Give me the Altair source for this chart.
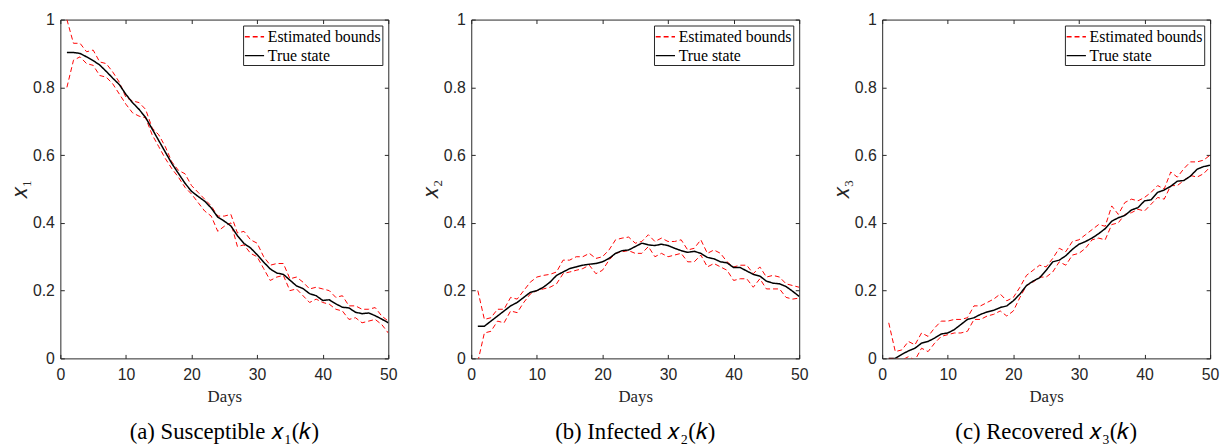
import altair as alt
import pandas as pd

days = list(range(1, 51))
x_ticks = [0, 10, 20, 30, 40, 50]
y_ticks = [0, 0.2, 0.4, 0.6, 0.8, 1]
legend_labels = ["Estimated bounds", "True state"]

x1_true = [0.903, 0.903, 0.900, 0.890, 0.879, 0.866, 0.847, 0.827, 0.808, 0.779,
           0.755, 0.735, 0.711, 0.677, 0.643, 0.609, 0.575, 0.546, 0.517, 0.493,
           0.478, 0.464, 0.444, 0.417, 0.405, 0.391, 0.362, 0.339, 0.326, 0.306,
           0.284, 0.264, 0.252, 0.248, 0.231, 0.214, 0.206, 0.191, 0.185, 0.171,
           0.173, 0.161, 0.151, 0.149, 0.136, 0.132, 0.134, 0.126, 0.116, 0.105]
x1_upper = [1.000, 0.930, 0.930, 0.905, 0.910, 0.875, 0.870, 0.845, 0.815, 0.770,
            0.760, 0.755, 0.735, 0.680, 0.660, 0.625, 0.580, 0.555, 0.545, 0.510,
            0.490, 0.470, 0.450, 0.420, 0.420, 0.425, 0.370, 0.375, 0.350, 0.340,
            0.300, 0.275, 0.280, 0.280, 0.235, 0.240, 0.225, 0.205, 0.210, 0.205,
            0.200, 0.180, 0.185, 0.155, 0.155, 0.145, 0.145, 0.150, 0.125, 0.110]
x1_lower = [0.800, 0.880, 0.890, 0.870, 0.865, 0.835, 0.830, 0.810, 0.780, 0.750,
            0.725, 0.715, 0.710, 0.660, 0.625, 0.590, 0.560, 0.535, 0.505, 0.485,
            0.460, 0.435, 0.420, 0.375, 0.390, 0.400, 0.330, 0.335, 0.310, 0.300,
            0.265, 0.230, 0.240, 0.245, 0.200, 0.205, 0.185, 0.165, 0.175, 0.165,
            0.160, 0.145, 0.140, 0.115, 0.120, 0.105, 0.110, 0.115, 0.100, 0.075]

x2_true = [0.095, 0.095, 0.110, 0.125, 0.140, 0.155, 0.165, 0.180, 0.195, 0.200,
           0.210, 0.225, 0.245, 0.255, 0.265, 0.270, 0.275, 0.278, 0.280, 0.285,
           0.295, 0.310, 0.318, 0.320, 0.330, 0.340, 0.335, 0.333, 0.337, 0.333,
           0.325, 0.318, 0.313, 0.316, 0.310, 0.298, 0.294, 0.285, 0.282, 0.268,
           0.268, 0.258, 0.248, 0.243, 0.228, 0.222, 0.220, 0.212, 0.198, 0.183]
x2_upper = [0.200, 0.115, 0.120, 0.145, 0.145, 0.180, 0.175, 0.200, 0.225, 0.240,
            0.245, 0.248, 0.255, 0.290, 0.290, 0.300, 0.300, 0.310, 0.295, 0.300,
            0.320, 0.350, 0.355, 0.358, 0.340, 0.345, 0.365, 0.345, 0.355, 0.345,
            0.345, 0.350, 0.320, 0.325, 0.350, 0.310, 0.320, 0.310, 0.285, 0.270,
            0.275, 0.275, 0.250, 0.270, 0.240, 0.245, 0.240, 0.220, 0.215, 0.210]
x2_lower = [-0.010, 0.075, 0.080, 0.110, 0.105, 0.140, 0.135, 0.165, 0.190, 0.200,
            0.205, 0.210, 0.220, 0.250, 0.255, 0.260, 0.265, 0.275, 0.250, 0.260,
            0.290, 0.310, 0.315, 0.318, 0.310, 0.310, 0.330, 0.300, 0.310, 0.300,
            0.305, 0.310, 0.285, 0.285, 0.305, 0.270, 0.280, 0.270, 0.260, 0.230,
            0.235, 0.235, 0.210, 0.235, 0.205, 0.205, 0.205, 0.180, 0.175, 0.178]

x3_true = [0.000, 0.000, 0.012, 0.022, 0.030, 0.045, 0.050, 0.060, 0.072, 0.075,
           0.085, 0.100, 0.115, 0.120, 0.130, 0.137, 0.142, 0.150, 0.155, 0.170,
           0.190, 0.215, 0.228, 0.238, 0.260, 0.285, 0.290, 0.303, 0.322, 0.337,
           0.345, 0.355, 0.368, 0.383, 0.405, 0.415, 0.422, 0.438, 0.445, 0.465,
           0.468, 0.490, 0.497, 0.508, 0.523, 0.525, 0.538, 0.558, 0.566, 0.570]
x3_upper = [0.105, 0.020, 0.025, 0.050, 0.040, 0.075, 0.065, 0.090, 0.110, 0.110,
            0.115, 0.115, 0.120, 0.155, 0.155, 0.165, 0.175, 0.190, 0.170, 0.180,
            0.210, 0.245, 0.260, 0.275, 0.270, 0.295, 0.325, 0.315, 0.345, 0.350,
            0.365, 0.380, 0.395, 0.390, 0.450, 0.425, 0.460, 0.470, 0.465, 0.475,
            0.490, 0.510, 0.500, 0.550, 0.535, 0.560, 0.580, 0.580, 0.585, 0.600]
x3_lower = [0.000, 0.000, -0.005, 0.005, -0.005, 0.030, 0.020, 0.045, 0.065, 0.070,
            0.075, 0.075, 0.080, 0.115, 0.115, 0.125, 0.130, 0.140, 0.125, 0.140,
            0.180, 0.215, 0.225, 0.240, 0.240, 0.255, 0.285, 0.275, 0.305, 0.310,
            0.325, 0.350, 0.355, 0.350, 0.395, 0.400, 0.425, 0.430, 0.440, 0.435,
            0.455, 0.475, 0.470, 0.510, 0.510, 0.525, 0.540, 0.535, 0.545, 0.565]

AX = "#262626"

color_scale = alt.Scale(domain=legend_labels, range=["#ff0000", "#000000"])
dash_scale = alt.Scale(domain=legend_labels, range=[[5, 3], [1, 0]])
x_scale = alt.Scale(domain=[0, 50], nice=False, zero=False)
y_scale = alt.Scale(domain=[0, 1], nice=False, zero=False)


def panel(true_vals, upper_vals, lower_vals, ytitle, caption):
    bounds_df = pd.DataFrame({
        "day": days + days,
        "value": upper_vals + lower_vals,
        "series": ["upper"] * len(days) + ["lower"] * len(days),
        "label": [legend_labels[0]] * (2 * len(days)),
    })
    true_df = pd.DataFrame({
        "day": days,
        "value": true_vals,
        "series": ["true"] * len(days),
        "label": [legend_labels[1]] * len(days),
    })
    x_main = alt.X("day:Q", scale=x_scale,
                   axis=alt.Axis(values=x_ticks, orient="bottom", offset=-4,
                                 title="Days", titleFontSize=17, titlePadding=7,
                                 labelPadding=8))
    y_main = alt.Y("value:Q", scale=y_scale,
                   axis=alt.Axis(values=y_ticks, orient="left", offset=-4, format="~g",
                                 title=ytitle, titleFontSize=22,
                                 titlePadding=1, labelPadding=6))
    enc = dict(
        x=x_main, y=y_main,
        color=alt.Color("label:N", scale=color_scale, title=None),
        strokeDash=alt.StrokeDash("label:N", scale=dash_scale, title=None),
        detail="series:N",
    )
    bounds = alt.Chart(bounds_df).mark_line(strokeWidth=1, clip=True).encode(**enc)
    truel = alt.Chart(true_df).mark_line(strokeWidth=1.5, clip=True).encode(**enc)
    inner = alt.layer(bounds, truel)
    mirror = alt.Chart(true_df).mark_line(opacity=0).encode(
        x=alt.X("day:Q", scale=x_scale,
                axis=alt.Axis(values=x_ticks, orient="top", offset=-4, labels=False,
                              title=None)),
        y=alt.Y("value:Q", scale=y_scale,
                axis=alt.Axis(values=y_ticks, orient="right", offset=-4, labels=False,
                              title=None)),
    )
    return alt.layer(inner, mirror).resolve_scale(x="independent", y="independent").properties(
        width=332, height=343,
        title=alt.TitleParams(caption, orient="bottom", anchor="middle", frame="group",
                              offset=17),
    )


p1 = panel(x1_true, x1_upper, x1_lower, "𝑥₁", "(a) Susceptible 𝑥₁(𝑘)")
p2 = panel(x2_true, x2_upper, x2_lower, "𝑥₂", "(b) Infected 𝑥₂(𝑘)")
p3 = panel(x3_true, x3_upper, x3_lower, "𝑥₃", "(c) Recovered 𝑥₃(𝑘)")

chart = alt.hconcat(p1, p2, p3, spacing=21).resolve_scale(
    color="independent", strokeDash="independent"
).resolve_legend(
    color="independent", strokeDash="independent"
).properties(
    padding={"left": 0, "top": 0, "right": 0, "bottom": 0}
).configure_view(
    stroke=AX, strokeWidth=1
).configure_axis(
    grid=False, domain=False, labelFlush=False,
    labelFont="Liberation Sans", labelFontSize=16, labelColor=AX,
    titleFont="Liberation Serif", titleFontWeight="normal", titleColor=AX,
    tickColor=AX, tickSize=4, tickWidth=1,
).configure_legend(
    orient="top-right", offset=6, strokeColor=AX, fillColor="white", padding=1,
    labelFont="Liberation Serif", labelFontSize=16, labelColor="black",
    symbolType="stroke", symbolSize=380, symbolStrokeWidth=1.5,
    rowPadding=0, labelOffset=3, cornerRadius=0,
).configure_title(
    font="Liberation Serif", fontSize=23, fontWeight="normal", color="black",
)

chart.save("out.html", embed_options={"renderer": "svg", "actions": False})
